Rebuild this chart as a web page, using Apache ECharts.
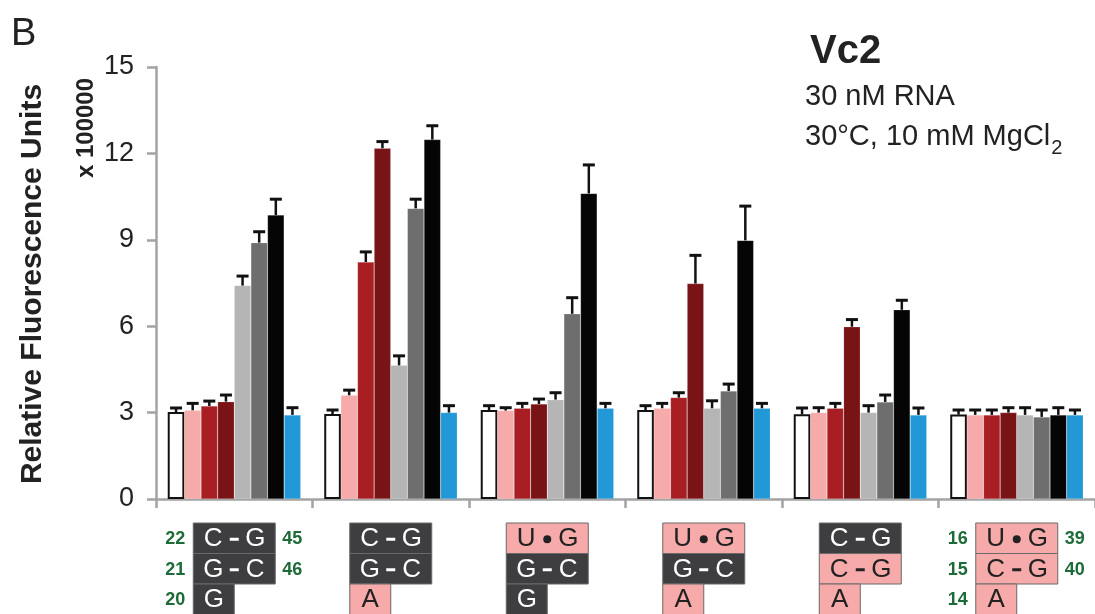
<!DOCTYPE html>
<html>
<head>
<meta charset="utf-8">
<script src="https://cdn.jsdelivr.net/npm/echarts@6/dist/echarts.min.js"></script>
<style>
  html, body { margin: 0; padding: 0; background: #fff; }
  #main { width: 1095px; height: 614px; }
</style>
</head>
<body>
<div id="main"></div>
<script>
// constructs (one category per construct)
var groups = ['C-G/G-C/G', 'C-G/G-C/A', 'U•G/G-C/G', 'U•G/G-C/A', 'C-G/C-G/A', 'U•G/C-G/A'];

// bar heights (x 100000 RFU), one array per condition
var cond1 = [3.02, 2.95, 3.09, 3.09, 2.94, 2.93];
var cond2 = [3.08, 3.60, 3.07, 3.15, 3.00, 2.92];
var cond3 = [3.23, 8.23, 3.15, 3.52, 3.15, 2.92];
var cond4 = [3.38, 12.18, 3.30, 7.48, 5.98, 3.00];
var cond5 = [7.41, 4.64, 3.45, 3.15, 3.00, 2.92];
var cond6 = [8.90, 10.09, 6.43, 3.75, 3.37, 2.85];
var cond7 = [9.86, 12.48, 10.61, 8.98, 6.57, 2.92];
var cond8 = [2.92, 3.00, 3.15, 3.15, 2.92, 2.92];

// upper error (same units)
var err1 = [0.14, 0.14, 0.15, 0.15, 0.22, 0.16];
var err2 = [0.24, 0.18, 0.10, 0.17, 0.17, 0.17];
var err3 = [0.17, 0.35, 0.17, 0.17, 0.17, 0.17];
var err4 = [0.23, 0.23, 0.17, 0.98, 0.25, 0.17];
var err5 = [0.33, 0.33, 0.24, 0.26, 0.24, 0.25];
var err6 = [0.38, 0.32, 0.56, 0.24, 0.24, 0.24];
var err7 = [0.55, 0.48, 0.99, 1.19, 0.33, 0.25];
var err8 = [0.25, 0.24, 0.17, 0.17, 0.24, 0.17];

// y axis ticks
var yTicks = [0, 3, 6, 9, 12, 15];

// base-pair boxes under each construct (d = dark, p = pink)
var topPair = [['C', '-', 'G'], ['C', '-', 'G'], ['U', '•', 'G'], ['U', '•', 'G'], ['C', '-', 'G'], ['U', '•', 'G']];
var topKind = ['d', 'd', 'p', 'p', 'd', 'p'];
var midPair = [['G', '-', 'C'], ['G', '-', 'C'], ['G', '-', 'C'], ['G', '-', 'C'], ['C', '-', 'G'], ['C', '-', 'G']];
var midKind = ['d', 'd', 'd', 'd', 'p', 'p'];
var baseNt = ['G', 'A', 'G', 'A', 'A', 'A'];
var baseKind = ['d', 'p', 'd', 'p', 'p', 'p'];
var leftNums = { 0: ['22', '21', '20'], 5: ['16', '15', '14'] };
var rightNums = { 0: ['45', '46'], 5: ['39', '40'] };

var values = [cond1, cond2, cond3, cond4, cond5, cond6, cond7, cond8];
var errors = [err1, err2, err3, err4, err5, err6, err7, err8];
var colors = ['#ffffff', '#f6aaa9', '#a81e23', '#7a1315', '#b4b5b4', '#6d6e6d', '#050505', '#2398d6'];

var FONT = '"Liberation Sans", Arial, Helvetica, sans-serif';
var CAT_GAP = 0.15;
var NBARS = values.length;

var myChart = echarts.init(document.getElementById('main'), null, { renderer: 'canvas' });

var series = [];
values.forEach(function (vals, k) {
    series.push({
        name: 'cond' + (k + 1),
        type: 'bar',
        barGap: '0%',
        barCategoryGap: (CAT_GAP * 100) + '%',
        data: vals,
        animation: false,
        itemStyle: k === 0
            ? { color: '#ffffff', borderColor: '#111', borderWidth: 2 }
            : { color: colors[k], borderColor: 'rgba(255,255,255,0.35)', borderWidth: 0.5 },
        z: 2
    });
});
// error bars (upper only) drawn with a custom series per condition
values.forEach(function (vals, k) {
    series.push({
        name: 'err' + (k + 1),
        type: 'custom',
        animation: false,
        z: 3,
        data: vals.map(function (v, i) { return [i, v, errors[k][i]]; }),
        encode: { x: 0, y: 1 },
        renderItem: function (params, api) {
            var ci = api.value(0);
            var base = api.coord([ci, api.value(1)]);
            var tip = api.coord([ci, api.value(1) + api.value(2)]);
            var band = api.size([1, 0])[0];
            var bw = band * (1 - CAT_GAP) / NBARS;
            var x = base[0] + (k - (NBARS - 1) / 2) * bw;
            return {
                type: 'group',
                children: [
                    { type: 'line', shape: { x1: x, y1: base[1], x2: x, y2: tip[1] }, style: { stroke: '#111', lineWidth: 2.5 } },
                    { type: 'line', shape: { x1: x - 6, y1: tip[1], x2: x + 6, y2: tip[1] }, style: { stroke: '#111', lineWidth: 3 } }
                ]
            };
        }
    });
});

var option = {
    backgroundColor: '#fff',
    animation: false,
    grid: { left: 156, top: 67, width: 945, height: 432 },
    xAxis: {
        type: 'category',
        data: groups,
        axisLine: { lineStyle: { color: '#a3a3a3', width: 2.5 } },
        axisTick: { show: true, length: 9, lineStyle: { color: '#a3a3a3', width: 2.5 } },
        axisLabel: { show: false },
        splitLine: { show: false }
    },
    yAxis: {
        type: 'value',
        min: yTicks[0],
        max: yTicks[yTicks.length - 1],
        interval: 3,
        axisLine: { show: true, lineStyle: { color: '#a3a3a3', width: 2.5 } },
        axisTick: { show: true, length: 9, lineStyle: { color: '#a3a3a3', width: 2.5 } },
        axisLabel: { fontFamily: FONT, fontSize: 27, color: '#222', margin: 22 },
        splitLine: { show: false }
    },
    series: series
};
myChart.setOption(option);

// text width helper for the subscript
var ctx = document.createElement('canvas').getContext('2d');
function textWidth(str, font) { ctx.font = font; return ctx.measureText(str).width; }

var g = [];
g.push({ type: 'text', left: 11, top: 16, style: { text: 'B', font: '38px ' + FONT, fill: '#222' } });
g.push({ type: 'text', x: 33, y: 284, rotation: Math.PI / 2,
    style: { text: 'Relative Fluorescence Units', font: 'bold 30px ' + FONT, fill: '#222', align: 'center', verticalAlign: 'middle' } });
g.push({ type: 'text', x: 86, y: 128, rotation: Math.PI / 2,
    style: { text: 'x 100000', font: 'bold 24px ' + FONT, fill: '#222', align: 'center', verticalAlign: 'middle' } });
g.push({ type: 'text', x: 810, y: 72, style: { text: 'Vc2', font: 'bold 40px ' + FONT, fill: '#222', verticalAlign: 'bottom' } });
g.push({ type: 'text', x: 805, y: 111, style: { text: '30 nM RNA', font: '29px ' + FONT, fill: '#222', verticalAlign: 'bottom' } });
var condText = '30°C, 10 mM MgCl';
g.push({ type: 'text', x: 805, y: 151, style: { text: condText, font: '29px ' + FONT, fill: '#222', verticalAlign: 'bottom' } });
g.push({ type: 'text', x: 805 + textWidth(condText, '29px ' + FONT) + 1, y: 158,
    style: { text: '2', font: '20px ' + FONT, fill: '#222', verticalAlign: 'bottom' } });

// construct boxes under the axis
var ROW_TOP = 523, ROW_H = 30.5, BOX_W = 82;
function boxFill(kind) { return kind === 'd' ? '#3e3e40' : '#f6aaa9'; }
function txtFill(kind) { return kind === 'd' ? '#ffffff' : '#222222'; }
function pairRow(cx, y, pair, kind) {
    var fill = txtFill(kind);
    g.push({ type: 'rect', shape: { x: cx - BOX_W / 2, y: y, width: BOX_W, height: ROW_H },
        style: { fill: boxFill(kind), stroke: '#6a6a6a', lineWidth: 1 } });
    var cy = y + ROW_H / 2 + 1;
    g.push({ type: 'text', x: cx - 21, y: cy, style: { text: pair[0], font: '26px ' + FONT, fill: fill, align: 'center', verticalAlign: 'middle' } });
    g.push({ type: 'text', x: cx + 21, y: cy, style: { text: pair[2], font: '26px ' + FONT, fill: fill, align: 'center', verticalAlign: 'middle' } });
    if (pair[1] === '•') {
        g.push({ type: 'circle', shape: { cx: cx, cy: cy, r: 4 }, style: { fill: fill } });
    } else {
        g.push({ type: 'rect', shape: { x: cx - 4.5, y: cy - 1.5, width: 9, height: 3 }, style: { fill: fill } });
    }
}
groups.forEach(function (name, i) {
    var cx = myChart.convertToPixel({ xAxisIndex: 0 }, i);
    pairRow(cx, ROW_TOP, topPair[i], topKind[i]);
    pairRow(cx, ROW_TOP + ROW_H, midPair[i], midKind[i]);
    var y3 = ROW_TOP + 2 * ROW_H;
    g.push({ type: 'rect', shape: { x: cx - BOX_W / 2, y: y3, width: BOX_W / 2, height: ROW_H },
        style: { fill: boxFill(baseKind[i]), stroke: '#6a6a6a', lineWidth: 1 } });
    g.push({ type: 'text', x: cx - BOX_W / 4, y: y3 + ROW_H / 2 + 1,
        style: { text: baseNt[i], font: '26px ' + FONT, fill: txtFill(baseKind[i]), align: 'center', verticalAlign: 'middle' } });
    if (leftNums[i]) {
        leftNums[i].forEach(function (n, r) {
            g.push({ type: 'text', x: cx - BOX_W / 2 - 8, y: ROW_TOP + r * ROW_H + ROW_H / 2 + 1,
                style: { text: n, font: 'bold 18px ' + FONT, fill: '#1d6b38', align: 'right', verticalAlign: 'middle' } });
        });
    }
    if (rightNums[i]) {
        rightNums[i].forEach(function (n, r) {
            g.push({ type: 'text', x: cx + BOX_W / 2 + 7, y: ROW_TOP + r * ROW_H + ROW_H / 2 + 1,
                style: { text: n, font: 'bold 18px ' + FONT, fill: '#1d6b38', align: 'left', verticalAlign: 'middle' } });
        });
    }
});
myChart.setOption({ graphic: g });
</script>
</body>
</html>
